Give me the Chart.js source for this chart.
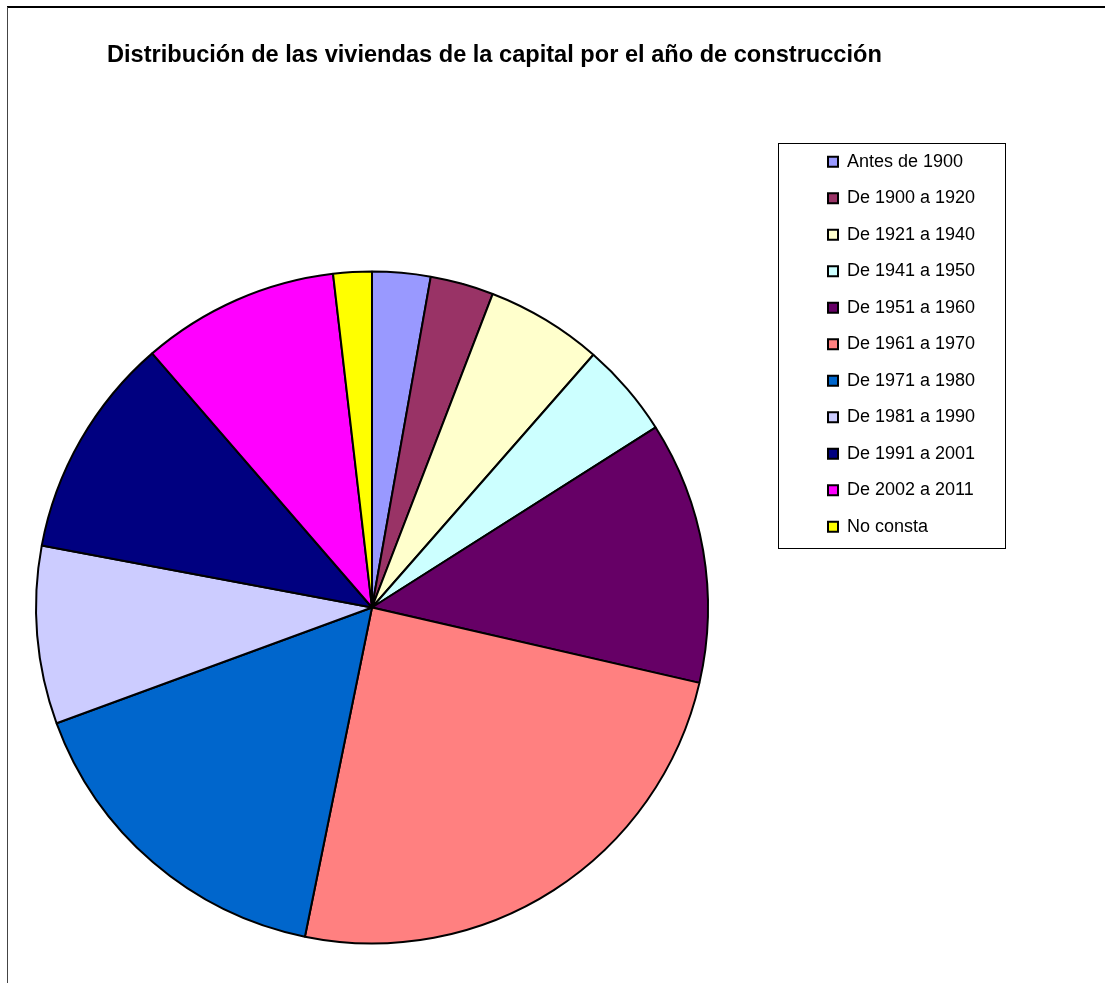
<!DOCTYPE html>
<html>
<head>
<meta charset="utf-8">
<script src="https://cdn.jsdelivr.net/npm/chart.js@4"></script>
<style>
  html, body { margin: 0; padding: 0; background: #fff; }
  #wrap { width: 1105px; height: 983px; position: relative; }
</style>
</head>
<body>
<div id="wrap"><canvas id="c" width="1105" height="983"></canvas></div>
<script>
const chartTitle = 'Distribución de las viviendas de la capital por el año de construcción';
const categories = ['Antes de 1900', 'De 1900 a 1920', 'De 1921 a 1940', 'De 1941 a 1950', 'De 1951 a 1960', 'De 1961 a 1970', 'De 1971 a 1980', 'De 1981 a 1990', 'De 1991 a 2001', 'De 2002 a 2011', 'No consta'];
const shares = [2.8, 3.05, 5.6, 4.55, 12.6, 24.6, 16.2, 8.55, 10.7, 9.5, 1.85];
const sliceColors = ['#9999FF', '#993366', '#FFFFCC', '#CCFFFF', '#660066', '#FF8080', '#0066CC', '#CCCCFF', '#000080', '#FF00FF', '#FFFF00'];

const FONT = "'Liberation Sans', Arial, sans-serif";

const placePlugin = {
  id: 'place',
  afterLayout(chart) {
    const t = chart.titleBlock;
    if (t) { t.left = 107; t.right = 1100; t.width = t.right - t.left; }
    const lg = chart.legend;
    if (lg) {
      const pad = lg.options.labels.padding;
      lg.left = 828 - pad; lg.top = 134.2; lg.right = 1005; lg.bottom = lg.top + 600;
      lg.width = lg.right - lg.left; lg.height = 600;
    }
  },
  beforeDraw(chart) {
    const ctx = chart.ctx;
    ctx.save();
    ctx.fillStyle = '#fff';
    ctx.fillRect(0, 0, chart.width, chart.height);
    ctx.strokeStyle = '#000';
    ctx.lineWidth = 2;
    ctx.beginPath(); ctx.moveTo(7, 7); ctx.lineTo(1105, 7); ctx.stroke();
    ctx.strokeStyle = '#444';
    ctx.lineWidth = 1;
    ctx.beginPath(); ctx.moveTo(7.5, 7); ctx.lineTo(7.5, 983); ctx.stroke();
    ctx.strokeStyle = '#000';
    ctx.lineWidth = 1;
    ctx.strokeRect(778.5, 143.5, 227, 405);
    ctx.restore();
  }
};

new Chart(document.getElementById('c'), {
  type: 'pie',
  data: {
    labels: categories,
    datasets: [{
      data: shares,
      backgroundColor: sliceColors,
      borderColor: '#000',
      borderWidth: 2,
      borderAlign: 'center'
    }]
  },
  options: {
    responsive: false,
    animation: false,
    events: [],
    rotation: 0,
    layout: { padding: { left: 35, right: 396, top: 0, bottom: 38.5 } },
    plugins: {
      title: {
        display: true,
        text: chartTitle,
        align: 'start',
        color: '#000',
        font: { family: FONT, size: 23.6, weight: 'bold', lineHeight: 1.2 },
        padding: { top: 41.7, bottom: 200.48 }
      },
      legend: {
        display: true,
        position: 'chartArea',
        align: 'start',
        labels: {
          color: '#000',
          font: { family: FONT, size: 18 },
          boxWidth: 10,
          boxHeight: 10,
          padding: 18.5
        }
      },
      tooltip: { enabled: false }
    }
  },
  plugins: [placePlugin]
});
</script>
</body>
</html>
